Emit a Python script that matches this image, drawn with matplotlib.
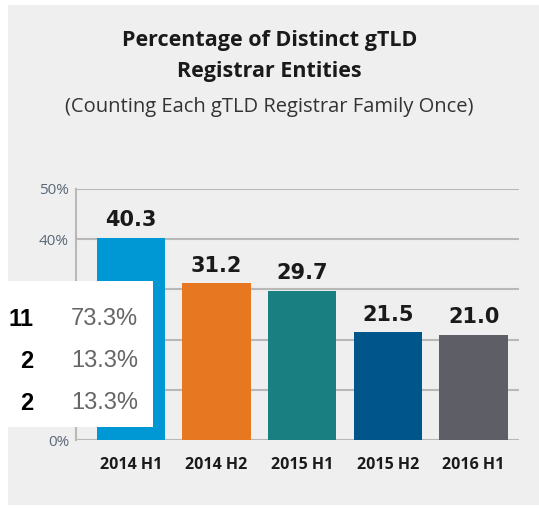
import numpy as np
import matplotlib.pyplot as plt
from matplotlib.patches import Rectangle

# bar chart data
periods = ["2014 H1", "2014 H2", "2015 H1", "2015 H2", "2016 H1"]
values = [40.3, 31.2, 29.7, 21.5, 21.0]
colors = ["#0098d4", "#e87722", "#1a7f80", "#00558b", "#5e5f66"]

# overlay table (white box on the left)
counts = ["11", "2", "2"]
shares = ["73.3%", "13.3%", "13.3%"]

W, H = 539, 509
fig = plt.figure(figsize=(W / 100, H / 100), dpi=100)
fig.patch.set_facecolor("white")

# gray panel behind everything
bg = fig.add_axes([0, 0, 1, 1], zorder=0)
bg.set_xlim(0, W)
bg.set_ylim(H, 0)
bg.axis("off")
bg.add_patch(Rectangle((8, 5), W - 8, H - 9, facecolor="#efefef", edgecolor="none"))

ax = fig.add_axes([76 / W, 1 - 440 / H, (519 - 76) / W, (440 - 189) / H], zorder=1)
ax.set_facecolor("none")

x = np.arange(len(periods))
bars = ax.bar(x, values, width=0.8, color=colors, zorder=3)
for xi, v in zip(x, values):
    ax.text(xi, v + 1.5, "%.1f" % v, ha="center", va="bottom",
            fontsize=15, fontweight="bold", color="#1a1a1a", family="DejaVu Sans")

ax.set_xlim(-0.64, 4.53)
ax.set_ylim(0, 50)
ax.set_yticks(np.arange(0, 51, 10))
ax.set_yticklabels(["%d%%" % t for t in range(0, 51, 10)], fontsize=11,
                   color="#5a6878", family="Open Sans")
ax.set_xticks(x)
ax.set_xticklabels(periods, fontsize=11.5, fontweight="bold", color="#1a1a1a",
                   family="Open Sans")
ax.tick_params(axis="both", length=0)
ax.tick_params(axis="y", pad=5)
ax.tick_params(axis="x", pad=12)
ax.grid(axis="y", color="#b8b8b8", linewidth=1.5, zorder=1)
for s in ["top", "right", "bottom"]:
    ax.spines[s].set_visible(False)
ax.spines["left"].set_color("#b8b8b8")
ax.spines["left"].set_linewidth(1.5)

# titles
bg.text(W / 2, 40, "Percentage of Distinct gTLD", ha="center", va="center",
        fontsize=15.5, fontweight="bold", color="#1a1a1a", family="Open Sans")
bg.text(W / 2, 71, "Registrar Entities", ha="center", va="center",
        fontsize=15.5, fontweight="bold", color="#1a1a1a", family="Open Sans")
bg.text(W / 2, 107, "(Counting Each gTLD Registrar Family Once)", ha="center",
        va="center", fontsize=14.5, color="#333333", family="Open Sans")

# white overlay box
top = fig.add_axes([0, 0, 1, 1], zorder=5)
top.set_xlim(0, W)
top.set_ylim(H, 0)
top.axis("off")
top.add_patch(Rectangle((0, 281), 153, 427 - 281, facecolor="white", edgecolor="none"))
row_y = [319, 361, 403]
for c, s, yy in zip(counts, shares, row_y):
    top.text(33, yy, c, ha="right", va="center", fontsize=17,
             fontweight="bold", color="black", family="Liberation Sans")
    top.text(138, yy, s, ha="right", va="center", fontsize=17,
             color="#666666", family="Liberation Sans")

fig.savefig("out.png", dpi=100)
